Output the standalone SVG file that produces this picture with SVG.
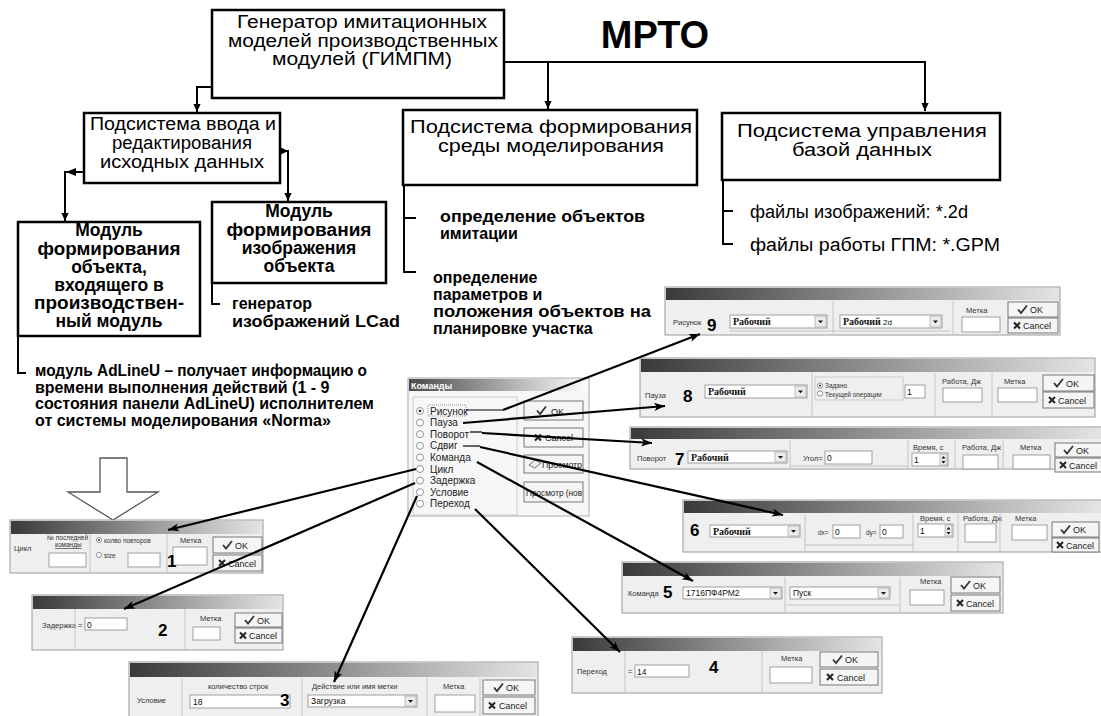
<svg xmlns="http://www.w3.org/2000/svg" xmlns:xlink="http://www.w3.org/1999/xlink" width="1101" height="716" viewBox="0 0 1101 716">
<defs>
<style>
.box{fill:#fff;stroke:#000;stroke-width:2.5}
.tb{font-family:"Liberation Sans",Arial,sans-serif;font-size:18px;fill:#000;text-anchor:middle}
.tm{font-family:"Liberation Sans",Arial,sans-serif;font-weight:bold;font-size:17.5px;fill:#000;text-anchor:middle}
.tn{font-family:"Liberation Sans",Arial,sans-serif;font-weight:bold;font-size:16px;fill:#000}
.tr{font-family:"Liberation Sans",Arial,sans-serif;font-size:18px;fill:#000}
.link{fill:none;stroke:#000;stroke-width:2}
.cmd{fill:none;stroke:#000;stroke-width:2.2}
.thin{fill:none;stroke:#000;stroke-width:1.2}
.frame{fill:#efefef;stroke:#9a9a9a;stroke-width:1}
.title{fill:url(#tbar)}
.lbl{font-family:"Liberation Sans",Arial,sans-serif;font-size:7.5px;fill:#333}
.sm{font-family:"Liberation Sans",Arial,sans-serif;font-size:6.5px;fill:#333}
.val{font-family:"Liberation Sans",Arial,sans-serif;font-size:8.5px;fill:#111}
.field{fill:#fff;stroke:#8a8a8a;stroke-width:0.8}
.ddb{fill:#ececec;stroke:#9a9a9a;stroke-width:0.6}
.btn{fill:#f5f5f5;stroke:#6a6a6a;stroke-width:0.9}
.btxt{font-family:"Liberation Sans",Arial,sans-serif;font-size:9px;fill:#222}
.sep{stroke:#c4c4c4;stroke-width:1}
.grp{fill:none;stroke:#c4c4c4;stroke-width:0.8}
.num{font-family:"Liberation Sans",Arial,sans-serif;font-weight:bold;font-size:17px;fill:#000}
.cb{font-family:"Liberation Serif","Times New Roman",serif;font-weight:bold;font-size:10px;fill:#111}
.rad{fill:#fff;stroke:#7a7a7a;stroke-width:0.8}
.opt{font-family:"Liberation Sans",Arial,sans-serif;font-size:10px;fill:#222}
</style>
<linearGradient id="tbar" x1="0" x2="1" y1="0" y2="0">
<stop offset="0" stop-color="#3a3a3a"/>
<stop offset="1" stop-color="#e4e4e4"/>
</linearGradient>
<linearGradient id="tbar2" x1="0" x2="1" y1="0" y2="0">
<stop offset="0" stop-color="#4a4a4a"/>
<stop offset="1" stop-color="#ffffff"/>
</linearGradient>
<marker id="ah" viewBox="0 0 10 10" refX="10" refY="5" markerWidth="8" markerHeight="10" markerUnits="userSpaceOnUse" orient="auto">
<path d="M0,0.5 L10,5 L0,9.5 Z" fill="#000"/>
</marker>
<marker id="ah2" viewBox="0 0 12 10" refX="12" refY="5" markerWidth="13" markerHeight="9" markerUnits="userSpaceOnUse" orient="auto">
<path d="M0,0.5 L12,5 L0,9.5 L3,5 Z" fill="#000"/>
</marker>
<path id="chk" d="M-4,0 L-1,3.5 L5,-4" fill="none" stroke="#333" stroke-width="1.8"/>
<path id="xx" d="M-3,-3 L3,3 M3,-3 L-3,3" fill="none" stroke="#222" stroke-width="2"/>
<path id="dd" d="M-2.5,-1 L2.5,-1 L0,1.8 Z" fill="#111"/>
</defs>

<rect width="1101" height="716" fill="#fff"/>

<!-- main hierarchy -->
<g id="n-gimpm">
<rect class="box" x="212" y="10" width="292" height="88"/>
<text class="tb" x="362" y="28" textLength="250" lengthAdjust="spacingAndGlyphs">Генератор имитационных</text>
<text class="tb" x="363" y="46.5" textLength="270" lengthAdjust="spacingAndGlyphs">моделей производственных</text>
<text class="tb" x="362" y="65" textLength="180" lengthAdjust="spacingAndGlyphs">модулей (ГИМПМ)</text>
</g>
<g id="n-title">
<text x="655" y="48" font-family="Liberation Sans, Arial, sans-serif" font-weight="bold" font-size="38" text-anchor="middle">МРТО</text>
</g>
<g id="n-input">
<rect class="box" x="84" y="113" width="196" height="70"/>
<text class="tb" x="183" y="130" textLength="186" lengthAdjust="spacingAndGlyphs">Подсистема ввода и</text>
<text class="tb" x="182" y="149" textLength="140" lengthAdjust="spacingAndGlyphs">редактирования</text>
<text class="tb" x="182" y="168" textLength="164" lengthAdjust="spacingAndGlyphs">исходных данных</text>
</g>
<g id="n-env">
<rect class="box" x="403" y="110" width="294" height="75"/>
<text class="tb" x="551" y="133" textLength="282" lengthAdjust="spacingAndGlyphs">Подсистема формирования</text>
<text class="tb" x="551" y="151.5" textLength="226" lengthAdjust="spacingAndGlyphs">среды моделирования</text>
</g>
<g id="n-db">
<rect class="box" x="722" y="113" width="278" height="67"/>
<text class="tb" x="862" y="137" textLength="250" lengthAdjust="spacingAndGlyphs">Подсистема управления</text>
<text class="tb" x="862" y="155.5" textLength="140" lengthAdjust="spacingAndGlyphs">базой данных</text>
</g>
<g id="n-obj">
<rect class="box" x="18" y="222" width="182" height="114"/>
<text class="tm" x="109" y="236">Модуль</text>
<text class="tm" x="109" y="254.5" textLength="143" lengthAdjust="spacingAndGlyphs">формирования</text>
<text class="tm" x="109" y="273">объекта,</text>
<text class="tm" x="109" y="291">входящего в</text>
<text class="tm" x="109" y="309" textLength="150" lengthAdjust="spacingAndGlyphs">производствен-</text>
<text class="tm" x="109" y="327">ный модуль</text>
</g>
<g id="n-img">
<rect class="box" x="212" y="202" width="174" height="81"/>
<text class="tm" x="299" y="216.5">Модуль</text>
<text class="tm" x="299" y="235.5" textLength="145" lengthAdjust="spacingAndGlyphs">формирования</text>
<text class="tm" x="299" y="254">изображения</text>
<text class="tm" x="299" y="272">объекта</text>
</g>
<g id="n-lcad">
<text class="tn" x="232" y="309" font-size="17">генератор</text>
<text class="tn" x="232" y="327" font-size="17" textLength="168" lengthAdjust="spacingAndGlyphs">изображений LCad</text>
</g>
<g id="n-adline">
<text class="tn" x="35" y="376" font-size="15" textLength="332" lengthAdjust="spacingAndGlyphs">модуль AdLineU – получает информацию о</text>
<text class="tn" x="35" y="393" font-size="15">времени выполнения действий (1 - 9</text>
<text class="tn" x="35" y="409" font-size="15">состояния панели AdLineU) исполнителем</text>
<text class="tn" x="35" y="426" font-size="15">от системы моделирования «Norma»</text>
</g>
<g id="n-defobj">
<text class="tn" x="440" y="222" textLength="205" lengthAdjust="spacingAndGlyphs">определение объектов</text>
<text class="tn" x="440" y="239">имитации</text>
</g>
<g id="n-defpar">
<text class="tn" x="433" y="283">определение</text>
<text class="tn" x="433" y="300">параметров и</text>
<text class="tn" x="433" y="317" textLength="218" lengthAdjust="spacingAndGlyphs">положения объектов на</text>
<text class="tn" x="433" y="334">планировке участка</text>
</g>
<g id="n-files">
<text class="tr" x="750" y="218" textLength="218" lengthAdjust="spacingAndGlyphs">файлы изображений: *.2d</text>
<text class="tr" x="750" y="251" textLength="250" lengthAdjust="spacingAndGlyphs">файлы работы ГПМ: *.GPM</text>
</g>

<!-- hollow pointer -->
<g id="n-pointer">
<path d="M100,458 H127 V492 H158 L113,520 L68,492 H100 Z" fill="#fff" stroke="#555" stroke-width="1.3"/>
</g>

<!-- Команды -->
<g id="dlg-commands">
<rect x="408" y="378" width="181" height="138" fill="#f7f7f7" stroke="#aaa"/>
<rect x="409" y="379" width="179" height="12" fill="url(#tbar2)"/>
<text x="411" y="389" font-family="Liberation Sans, Arial, sans-serif" font-weight="bold" font-size="9" fill="#fff">Команды</text>
<rect class="grp" x="413" y="397" width="104" height="118"/>
<circle class="rad" cx="420" cy="411" r="3.5"/><circle cx="420" cy="411" r="1.3" fill="#222"/>
<rect x="428" y="405" width="38" height="11" fill="none" stroke="#555" stroke-width="0.6" stroke-dasharray="1 1"/>
<text class="opt" x="430" y="414.5">Рисунок</text>
<circle class="rad" cx="420" cy="422.6" r="3.5"/><text class="opt" x="430" y="426">Пауза</text>
<circle class="rad" cx="420" cy="434.2" r="3.5"/><text class="opt" x="430" y="437.7">Поворот</text>
<circle class="rad" cx="420" cy="445.8" r="3.5"/><text class="opt" x="430" y="449.3">Сдвиг</text>
<circle class="rad" cx="420" cy="457.4" r="3.5"/><text class="opt" x="430" y="460.9">Команда</text>
<circle class="rad" cx="420" cy="469" r="3.5"/><text class="opt" x="430" y="472.5">Цикл</text>
<circle class="rad" cx="420" cy="480.6" r="3.5"/><text class="opt" x="430" y="484.1">Задержка</text>
<circle class="rad" cx="420" cy="492.2" r="3.5"/><text class="opt" x="430" y="495.7">Условие</text>
<circle class="rad" cx="420" cy="503.8" r="3.5"/><text class="opt" x="430" y="507.3">Переход</text>
<rect class="btn" x="524" y="401" width="59" height="19"/>
<use xlink:href="#chk" x="541" y="410.5"/>
<text class="btxt" x="551" y="414.5" font-size="10">OK</text>
<rect class="btn" x="524" y="428" width="59" height="19"/>
<use xlink:href="#xx" x="538" y="437.5"/>
<text class="btxt" x="545" y="441" font-size="10">Cancel</text>
<rect class="btn" x="524" y="455" width="59" height="18"/>
<path d="M529,465 L535,460 L541,463 L535,468 Z" fill="#eee" stroke="#555" stroke-width="0.8"/>
<text class="btxt" x="542" y="467.5" font-size="9" textLength="40" lengthAdjust="spacingAndGlyphs">Просмотр</text>
<rect class="btn" x="524" y="482" width="59" height="20"/>
<text class="btxt" x="526" y="495.5" font-size="9" textLength="56" lengthAdjust="spacingAndGlyphs">Просмотр (нов</text>
</g>

<!-- 9 Рисунок -->
<g id="dlg-9">
<rect class="frame" x="665" y="287" width="395" height="48"/>
<rect class="title" x="666" y="288" width="393" height="12"/>
<text class="lbl" x="673" y="325" font-size="7">Рисунок</text>
<text class="num" x="707" y="331">9</text>
<rect class="field" x="730" y="315" width="97" height="13"/><text class="cb" x="733" y="325">Рабочий</text>
<rect class="ddb" x="815" y="316" width="11" height="11"/><use xlink:href="#dd" x="820.5" y="321.5"/>
<line class="sep" x1="833" y1="301" x2="833" y2="334"/>
<line class="sep" x1="730" y1="331" x2="950" y2="331"/>
<rect class="field" x="840" y="315" width="102" height="13"/><text class="cb" x="843" y="325">Рабочий<tspan font-family="Liberation Sans, Arial, sans-serif" font-weight="normal" font-size="8"> 2d</tspan></text>
<rect class="ddb" x="930" y="316" width="11" height="11"/><use xlink:href="#dd" x="935.5" y="321.5"/>
<line class="sep" x1="953" y1="301" x2="953" y2="334"/>
<text class="lbl" x="966" y="313">Метка</text>
<rect class="field" x="962" y="317" width="38" height="15" fill="#f3f3f3"/>
<rect class="btn" x="1008" y="302" width="50" height="15"/><use xlink:href="#chk" x="1022" y="309.5"/><text class="btxt" x="1030" y="313">OK</text>
<rect class="btn" x="1008" y="318" width="50" height="15"/><use xlink:href="#xx" x="1017" y="325.5"/><text class="btxt" x="1023" y="329">Cancel</text>
</g>

<!-- 8 Пауза -->
<g id="dlg-8">
<rect class="frame" x="640" y="358" width="455" height="59"/>
<rect class="title" x="641" y="359" width="453" height="13"/>
<text class="lbl" x="645" y="398">Пауза</text>
<text class="num" x="683" y="402">8</text>
<rect class="field" x="705" y="385" width="102" height="13"/><text class="cb" x="708" y="395">Рабочий</text>
<rect class="ddb" x="795" y="386" width="11" height="11"/><use xlink:href="#dd" x="800.5" y="391.5"/>
<line class="sep" x1="812" y1="373" x2="812" y2="416"/>
<rect class="grp" x="815" y="377" width="88" height="23"/>
<circle class="rad" cx="820" cy="385.5" r="2.6"/><circle cx="820" cy="385.5" r="1" fill="#222"/>
<text class="sm" x="825" y="388">Задано</text>
<circle class="rad" cx="820" cy="393.5" r="2.6"/>
<text class="sm" x="825" y="396.5">Текущей операции</text>
<rect class="field" x="905" y="385" width="20" height="13"/><text class="val" x="907" y="395">1</text>
<line class="sep" x1="935" y1="373" x2="935" y2="416"/>
<text class="lbl" x="942" y="384">Работа, Дж</text>
<rect class="field" x="943" y="388" width="39" height="14"/>
<line class="sep" x1="992" y1="373" x2="992" y2="416"/>
<text class="lbl" x="1004" y="384">Метка</text>
<rect class="field" x="998" y="388" width="39" height="14" fill="#f3f3f3"/>
<rect class="btn" x="1043" y="375" width="51" height="16"/><use xlink:href="#chk" x="1058" y="383"/><text class="btxt" x="1066" y="386.5">OK</text>
<rect class="btn" x="1043" y="392" width="51" height="16"/><use xlink:href="#xx" x="1052" y="400"/><text class="btxt" x="1058" y="403.5">Cancel</text>
</g>

<!-- 7 Поворот -->
<g id="dlg-7">
<rect class="frame" x="630" y="427" width="472" height="42"/>
<rect class="title" x="631" y="428" width="470" height="11"/>
<text class="lbl" x="637" y="461">Поворот</text>
<text class="num" x="675" y="465">7</text>
<rect class="field" x="688" y="451" width="99" height="12"/><text class="cb" x="691" y="460.5">Рабочий</text>
<rect class="ddb" x="775" y="452" width="11" height="10"/><use xlink:href="#dd" x="780.5" y="457"/>
<line class="sep" x1="790" y1="440" x2="790" y2="468"/>
<line class="sep" x1="790" y1="466" x2="908" y2="466"/>
<text class="lbl" x="803" y="461">Угол=</text>
<rect class="field" x="825" y="451" width="47" height="13"/><text class="val" x="827" y="461">0</text>
<line class="sep" x1="908" y1="440" x2="908" y2="468"/>
<text class="lbl" x="913" y="450">Время, с</text>
<rect class="field" x="912" y="453" width="36" height="13"/><text class="val" x="914" y="463">1</text>
<rect class="ddb" x="940" y="454" width="7" height="11"/>
<path d="M941.5,458.5 L945.5,458.5 L943.5,456 Z M941.5,461 L945.5,461 L943.5,463.5 Z" fill="#111"/>
<line class="sep" x1="955" y1="440" x2="955" y2="468"/>
<text class="lbl" x="962" y="450">Работа, Дж</text>
<rect class="field" x="963" y="455" width="35" height="14"/>
<line class="sep" x1="1003" y1="440" x2="1003" y2="468"/>
<text class="lbl" x="1020" y="450">Метка</text>
<rect class="field" x="1013" y="455" width="37" height="14" fill="#f3f3f3"/>
<rect class="btn" x="1055" y="443" width="47" height="14"/><use xlink:href="#chk" x="1068" y="450"/><text class="btxt" x="1076" y="453.5">OK</text>
<rect class="btn" x="1055" y="458" width="47" height="14"/><use xlink:href="#xx" x="1063" y="465"/><text class="btxt" x="1069" y="468.5">Cancel</text>
</g>

<!-- 6 Сдвиг -->
<g id="dlg-6">
<rect class="frame" x="683" y="500" width="419" height="52"/>
<rect class="title" x="684" y="501" width="417" height="12"/>
<text class="num" x="690" y="536">6</text>
<rect class="field" x="710" y="525" width="90" height="12"/><text class="cb" x="713" y="534.5">Рабочий</text>
<rect class="ddb" x="788" y="526" width="11" height="10"/><use xlink:href="#dd" x="793.5" y="531"/>
<line class="sep" x1="805" y1="514" x2="805" y2="551"/>
<line class="sep" x1="805" y1="545" x2="913" y2="545"/>
<text class="sm" x="818" y="535">dx=</text>
<rect class="field" x="833" y="525" width="27" height="13"/><text class="val" x="835" y="535">0</text>
<text class="sm" x="866" y="535">dy=</text>
<rect class="field" x="880" y="525" width="23" height="13"/><text class="val" x="882" y="535">0</text>
<line class="sep" x1="913" y1="514" x2="913" y2="551"/>
<text class="lbl" x="920" y="521">Время, с</text>
<rect class="field" x="918" y="524" width="35" height="13"/><text class="val" x="920" y="534">1</text>
<rect class="ddb" x="945" y="525" width="7" height="11"/>
<path d="M946.5,529.5 L950.5,529.5 L948.5,527 Z M946.5,532 L950.5,532 L948.5,534.5 Z" fill="#111"/>
<line class="sep" x1="958" y1="514" x2="958" y2="551"/>
<text class="lbl" x="963" y="521">Работа, Дж</text>
<rect class="field" x="965" y="524" width="31" height="18"/>
<line class="sep" x1="1000" y1="514" x2="1000" y2="551"/>
<text class="lbl" x="1015" y="521">Метка</text>
<rect class="field" x="1012" y="525" width="35" height="15" fill="#f3f3f3"/>
<rect class="btn" x="1052" y="522" width="47" height="15"/><use xlink:href="#chk" x="1065" y="529.5"/><text class="btxt" x="1073" y="533">OK</text>
<rect class="btn" x="1052" y="538" width="47" height="14"/><use xlink:href="#xx" x="1060" y="545"/><text class="btxt" x="1066" y="548.5">Cancel</text>
</g>

<!-- 5 Команда -->
<g id="dlg-5">
<rect class="frame" x="622" y="562" width="381" height="51"/>
<rect class="title" x="623" y="563" width="379" height="13"/>
<text class="lbl" x="628" y="596">Команда</text>
<text class="num" x="663" y="598">5</text>
<rect class="field" x="683" y="587" width="99" height="12"/><text class="val" x="686" y="596">1716ПФ4РМ2</text>
<rect class="ddb" x="770" y="588" width="11" height="10"/><use xlink:href="#dd" x="775.5" y="593"/>
<line class="sep" x1="785" y1="577" x2="785" y2="612"/>
<line class="sep" x1="785" y1="605" x2="900" y2="605"/>
<rect class="field" x="790" y="587" width="100" height="12"/><text class="val" x="793" y="596">Пуск</text>
<rect class="ddb" x="878" y="588" width="11" height="10"/><use xlink:href="#dd" x="883.5" y="593"/>
<line class="sep" x1="900" y1="577" x2="900" y2="612"/>
<text class="lbl" x="920" y="584">Метка</text>
<rect class="field" x="910" y="590" width="34" height="15" fill="#f3f3f3"/>
<rect class="btn" x="951" y="577" width="49" height="16"/><use xlink:href="#chk" x="965" y="585"/><text class="btxt" x="973" y="588.5">OK</text>
<rect class="btn" x="951" y="595" width="49" height="16"/><use xlink:href="#xx" x="960" y="603"/><text class="btxt" x="966" y="606.5">Cancel</text>
</g>

<!-- 4 Переход -->
<g id="dlg-4">
<rect class="frame" x="572" y="637" width="310" height="56"/>
<rect class="title" x="573" y="638" width="308" height="13"/>
<text class="lbl" x="577" y="674">Переход</text>
<line class="sep" x1="625" y1="651" x2="625" y2="692"/>
<text class="lbl" x="628" y="674">=</text>
<rect class="field" x="635" y="665" width="54" height="12"/><text class="val" x="637" y="674.5">14</text>
<text class="num" x="709" y="673">4</text>
<line class="sep" x1="762" y1="651" x2="762" y2="692"/>
<text class="lbl" x="781" y="661">Метка</text>
<rect class="field" x="770" y="667" width="42" height="16" fill="#f3f3f3"/>
<rect class="btn" x="820" y="652" width="58" height="15"/><use xlink:href="#chk" x="837" y="659.5"/><text class="btxt" x="845" y="663">OK</text>
<rect class="btn" x="820" y="669" width="58" height="16"/><use xlink:href="#xx" x="830" y="677"/><text class="btxt" x="837" y="680.5">Cancel</text>
</g>

<!-- 3 Условие -->
<g id="dlg-3">
<rect class="frame" x="129" y="662" width="409" height="58"/>
<rect class="title" x="130" y="663" width="407" height="14"/>
<text class="lbl" x="137" y="703">Условие</text>
<line class="sep" x1="182" y1="678" x2="182" y2="716"/>
<text class="lbl" x="208" y="689">количество строк</text>
<rect class="field" x="190" y="695" width="100" height="13"/><text class="val" x="193" y="704.5">18</text>
<text class="num" x="280" y="706">3</text>
<line class="sep" x1="302" y1="678" x2="302" y2="716"/>
<text class="lbl" x="312" y="689">Действие или имя метки</text>
<rect class="field" x="308" y="695" width="109" height="12"/><text class="val" x="311" y="704">Загрузка</text>
<rect class="ddb" x="405" y="696" width="11" height="10"/><use xlink:href="#dd" x="410.5" y="701"/>
<line class="sep" x1="427" y1="678" x2="427" y2="716"/>
<text class="lbl" x="443" y="689">Метка</text>
<rect class="field" x="435" y="695" width="40" height="17" fill="#f3f3f3"/>
<line class="sep" x1="480" y1="678" x2="480" y2="716"/>
<rect class="btn" x="483" y="680" width="52" height="15"/><use xlink:href="#chk" x="498" y="687.5"/><text class="btxt" x="506" y="691">OK</text>
<rect class="btn" x="483" y="697" width="52" height="17"/><use xlink:href="#xx" x="492" y="705.5"/><text class="btxt" x="499" y="709">Cancel</text>
</g>

<!-- 2 Задержка -->
<g id="dlg-2">
<rect class="frame" x="32" y="595" width="251" height="55"/>
<rect class="title" x="33" y="596" width="249" height="13"/>
<text class="lbl" x="42" y="628" font-size="7">Задержка</text>
<line class="sep" x1="75" y1="609" x2="75" y2="649"/>
<text class="lbl" x="78" y="628">=</text>
<rect class="field" x="85" y="618" width="42" height="12"/><text class="val" x="87" y="627.5">0</text>
<text class="num" x="158" y="636">2</text>
<line class="sep" x1="185" y1="609" x2="185" y2="649"/>
<text class="lbl" x="200" y="621">Метка</text>
<rect class="field" x="193" y="627" width="27" height="13" fill="#f3f3f3"/>
<rect class="btn" x="235" y="613" width="47" height="14"/><use xlink:href="#chk" x="249" y="620"/><text class="btxt" x="257" y="623.5">OK</text>
<rect class="btn" x="235" y="628" width="47" height="15"/><use xlink:href="#xx" x="243" y="635.5"/><text class="btxt" x="249" y="639">Cancel</text>
</g>

<!-- 1 Цикл -->
<g id="dlg-1">
<rect class="frame" x="10" y="520" width="253" height="53"/>
<rect class="title" x="11" y="521" width="251" height="13"/>
<text class="lbl" x="14" y="551">Цикл</text>
<text class="sm" x="47" y="540" font-size="6">№ последней</text>
<text class="sm" x="55" y="547" font-size="6" text-decoration="underline">команды</text>
<rect class="field" x="49" y="553" width="37" height="14"/>
<line class="sep" x1="90" y1="534" x2="90" y2="572"/>
<circle class="rad" cx="99" cy="540" r="2.6"/><circle cx="99" cy="540" r="1" fill="#222"/>
<text class="sm" x="104" y="542.5">колво повторов</text>
<circle class="rad" cx="99" cy="555" r="2.6"/>
<text class="sm" x="104" y="557.5">size</text>
<rect class="field" x="128" y="553" width="32" height="14"/>
<line class="sep" x1="167" y1="534" x2="167" y2="572"/>
<text class="lbl" x="180" y="543">Метка</text>
<rect class="field" x="173" y="547" width="34" height="18" fill="#f3f3f3"/>
<text class="num" x="167" y="567">1</text>
<rect class="btn" x="213" y="537" width="49" height="16"/><use xlink:href="#chk" x="227" y="545"/><text class="btxt" x="235" y="548.5">OK</text>
<rect class="btn" x="213" y="555" width="49" height="16"/><use xlink:href="#xx" x="222" y="563"/><text class="btxt" x="228" y="566.5">Cancel</text>
</g>

<!-- connectors -->
<g id="connectors">
<path class="link" d="M212,87 H197 V112" marker-end="url(#ah)"/>
<path class="link" d="M504,62 H925 V111" marker-end="url(#ah)"/>
<path class="link" d="M548,62 V109" marker-end="url(#ah)"/>
<path class="link" d="M84,172 H65 V221" marker-end="url(#ah)"/>
<path d="M66,172 L76,168 L76,176 Z" fill="#000"/>
<path class="link" d="M280,151 H288 V201" marker-end="url(#ah)"/>
<path d="M288,151 L280,147 L280,155 Z" fill="#000"/>
<path class="link" d="M404,185 V272 H416 M404,218 H416"/>
<path class="link" d="M723,180 V244 H733 M723,211 H733"/>
<path class="link" d="M212,283 V304 H220"/>
<path class="link" d="M18,336 V373 H26"/>

<path class="thin" d="M466,410 H503"/>
<path class="cmd" d="M503,410 L700,334" marker-end="url(#ah2)"/>
<path class="cmd" d="M463,423 L665,406" marker-end="url(#ah2)"/>
<path class="thin" d="M470,432 H482"/>
<path class="cmd" d="M482,433 L652,443" marker-end="url(#ah2)"/>
<path class="thin" d="M463,446 H480"/>
<path class="cmd" d="M480,447 L783,515" marker-end="url(#ah2)"/>
<path class="cmd" d="M477,462 L693,581" marker-end="url(#ah2)"/>
<path class="cmd" d="M475,509 L620,652" marker-end="url(#ah2)"/>
<path class="cmd" d="M417,496 L334,682" marker-end="url(#ah2)"/>
<path class="cmd" d="M415,483 L124,609" marker-end="url(#ah2)"/>
<path class="cmd" d="M416,469 L168,530" marker-end="url(#ah2)"/>
</g>
</svg>
